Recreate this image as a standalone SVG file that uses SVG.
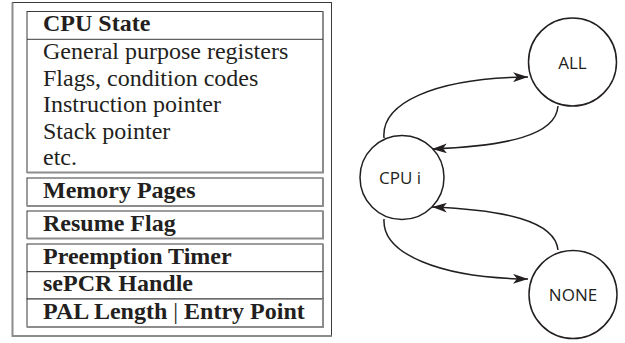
<svg xmlns="http://www.w3.org/2000/svg" width="625" height="343" viewBox="0 0 625 343">
  <style>
    .box { fill: #ffffff; stroke: #3a3a3a; stroke-width: 1; }
    .shade { stroke: #8c8c8c; stroke-width: 2; fill: none; }
    .div { stroke: #3a3a3a; stroke-width: 1; }
    .t { font-family: 'Liberation Serif', 'DejaVu Serif', serif; font-size: 24px; fill: #231f20; }
    .b { font-weight: bold; }
    .circ { fill: #ffffff; stroke: #231f20; stroke-width: 1.5; }
    .lbl { font-family: 'Open Sans', 'Liberation Sans', sans-serif; font-size: 17px; fill: #231f20; text-anchor: middle; }
    .edge { fill: none; stroke: #231f20; stroke-width: 1.5; marker-end: url(#arrow); }
  </style>
  <defs>
    <marker id="arrow" viewBox="0 0 15 10" refX="15" refY="5" markerWidth="15" markerHeight="10" markerUnits="userSpaceOnUse" orient="auto">
      <path d="M0,0 L15,5 L0,10 L4,5 Z" fill="#231f20"/>
    </marker>
  </defs>
  <rect x="0" y="0" width="625" height="343" fill="#ffffff"/>

  <g id="outer-box">
    <rect x="12.5" y="2.5" width="319" height="333.5" fill="#ffffff" stroke="#3a3a3a" stroke-width="1"/>
    <polyline class="shade" points="12.5,2.5 12.5,336 331.5,336"/>
  </g>

  <g id="cpu-state" font-family="Liberation Serif, DejaVu Serif, serif">
    <rect class="box" x="27" y="11.5" width="296" height="161"/>
    <polyline class="shade" points="323,11.5 323,172.5 27,172.5"/>
    <line class="div" x1="27" y1="39.3" x2="323" y2="39.3"/>
    <text class="t b" x="43" y="31">CPU State</text>
    <text class="t" x="43" y="59">General purpose registers</text>
    <text class="t" x="43" y="85.5">Flags, condition codes</text>
    <text class="t" x="43" y="112">Instruction pointer</text>
    <text class="t" x="43" y="138.5">Stack pointer</text>
    <text class="t" x="43" y="165">etc.</text>
  </g>

  <g id="memory-pages">
    <rect class="box" x="27" y="178" width="296" height="28"/>
    <polyline class="shade" points="323,178 323,206 27,206"/>
    <text class="t b" x="43" y="197.5">Memory Pages</text>
  </g>

  <g id="resume-flag">
    <rect class="box" x="27" y="211" width="296" height="27.5"/>
    <polyline class="shade" points="323,211 323,238.5 27,238.5"/>
    <text class="t b" x="43" y="230.5">Resume Flag</text>
  </g>

  <g id="preemption-timer">
    <rect class="box" x="27" y="244" width="296" height="27.7"/>
    <line class="shade" x1="323" y1="244" x2="323" y2="271.7"/>
    <text class="t b" x="43" y="263.5">Preemption Timer</text>
  </g>

  <g id="sepcr-handle">
    <rect class="box" x="27" y="271.7" width="296" height="27.3"/>
    <line class="shade" x1="323" y1="271.7" x2="323" y2="299"/>
    <text class="t b" x="43" y="291">sePCR Handle</text>
  </g>

  <g id="pal-length-entry-point">
    <rect class="box" x="27" y="299" width="296" height="28"/>
    <polyline class="shade" points="323,299 323,327 27,327"/>
    <text class="t b" x="43" y="319">PAL Length <tspan font-weight="normal">|</tspan> Entry Point</text>
  </g>

  <g id="connectors">
    <path class="edge" d="M384,138 C381,104 432,78 528,77"/>
    <path class="edge" d="M558,106 C556,136 505,146 432,149"/>
    <path class="edge" d="M558,250 C555,221 505,210 432,207"/>
    <path class="edge" d="M384,219 C382,254 440,278 528,279"/>
  </g>

  <g id="node-all">
    <circle class="circ" cx="572.5" cy="62" r="44"/>
    <text class="lbl" x="572.5" y="68.5">ALL</text>
  </g>

  <g id="node-cpu-i">
    <circle class="circ" cx="402" cy="177.5" r="42"/>
    <text class="lbl" x="400" y="184">CPU i</text>
  </g>

  <g id="node-none">
    <circle class="circ" cx="573" cy="294.5" r="44"/>
    <text class="lbl" x="573" y="300.5">NONE</text>
  </g>
</svg>
